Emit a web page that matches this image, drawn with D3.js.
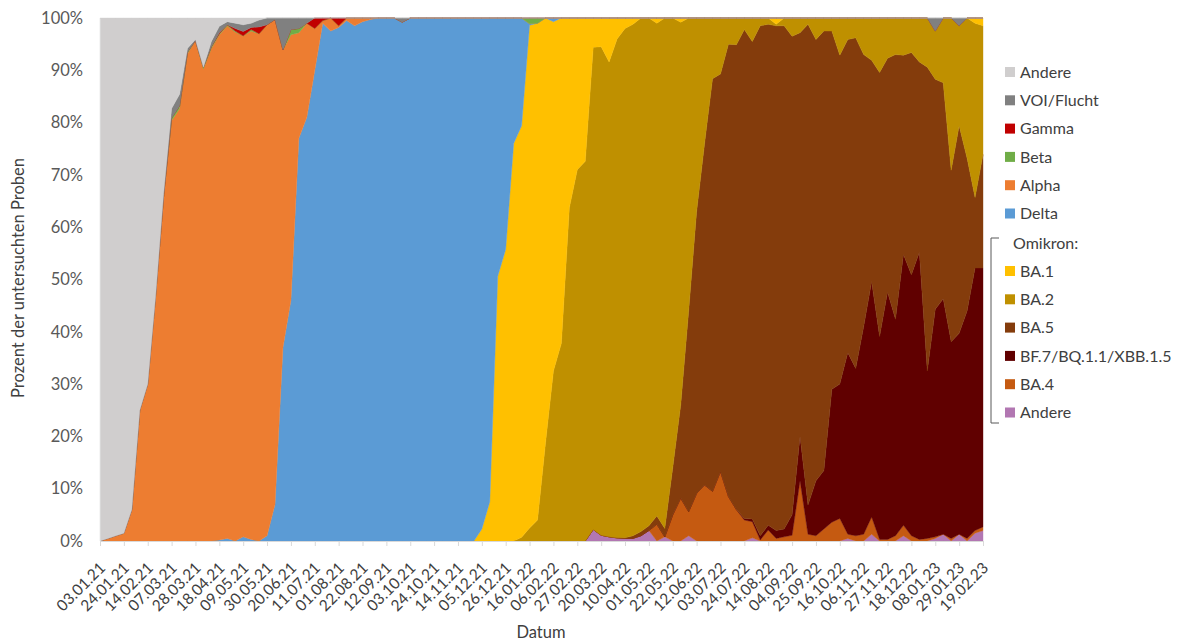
<!DOCTYPE html>
<html>
<head>
<meta charset="utf-8">
<script src="https://cdn.jsdelivr.net/npm/d3@7"></script>
<style>
  body { margin: 0; background: #fff; }
  text { font-family: Lato, "Open Sans", sans-serif; fill: #595959; }
</style>
</head>
<body>
<svg width="1182" height="642"></svg>
<script>
// weekly shares (%) from 03.01.21 to 19.02.23, 112 weeks
let omiAndere = [
  0, 0, 0, 0, 0, 0, 0, 0, 0, 0,
  0, 0, 0, 0, 0, 0, 0, 0, 0, 0,
  0, 0, 0, 0, 0, 0, 0, 0, 0, 0,
  0, 0, 0, 0, 0, 0, 0, 0, 0, 0,
  0, 0, 0, 0, 0, 0, 0, 0, 0, 0,
  0, 0, 0, 0, 0, 0, 0, 0, 0, 0,
  0, 0, 2.2, 1.1, 0.8, 0.6, 0.5, 0.5, 1, 2,
  0, 0.8, 0, 0, 1, 0, 0, 0, 0, 0,
  0, 0, 0.6, 0, 0, 0, 0, 0, 0, 0,
  0, 0, 0, 0, 0.5, 0, 0, 1.3, 0, 0,
  0, 1, 0, 0, 0, 0.5, 1.3, 0, 1.3, 0,
  1.5, 2
];
let ba4 = [
  0, 0, 0, 0, 0, 0, 0, 0, 0, 0,
  0, 0, 0, 0, 0, 0, 0, 0, 0, 0,
  0, 0, 0, 0, 0, 0, 0, 0, 0, 0,
  0, 0, 0, 0, 0, 0, 0, 0, 0, 0,
  0, 0, 0, 0, 0, 0, 0, 0, 0, 0,
  0, 0, 0, 0, 0, 0, 0, 0, 0, 0,
  0, 0, 0, 0, 0, 0, 0, 0, 0, 0,
  3.2, 0, 5, 8.2, 4.6, 9.1, 10.7, 9.5, 13.3, 8.5,
  6, 4, 3.1, 0.2, 2.1, 0.5, 0.8, 1.1, 11.5, 1.3,
  1, 2.3, 3.6, 4.3, 0.8, 1, 1.3, 3.3, 0.3, 0.3,
  1, 2, 1, 0.3, 0.5, 0.3, 0, 0.5, 0, 0.5,
  0.5, 0.7
];
let bf7 = [
  0, 0, 0, 0, 0, 0, 0, 0, 0, 0,
  0, 0, 0, 0, 0, 0, 0, 0, 0, 0,
  0, 0, 0, 0, 0, 0, 0, 0, 0, 0,
  0, 0, 0, 0, 0, 0, 0, 0, 0, 0,
  0, 0, 0, 0, 0, 0, 0, 0, 0, 0,
  0, 0, 0, 0, 0, 0, 0, 0, 0, 0,
  0, 0, 0, 0, 0, 0, 0, 0, 0, 0,
  0, 0, 0, 0, 0, 0, 0, 0, 0, 0,
  0, 0.3, 0.5, 0.8, 0.9, 1.5, 1.5, 3.9, 8.5, 5.6,
  10.5, 11.2, 25.4, 25.7, 34.7, 32, 39.7, 45, 38.8, 47.3,
  41.4, 51.8, 49.9, 54.9, 32, 43.5, 45, 37.6, 38.4, 43.5,
  50.2, 49.5
];
let ba5 = [
  0, 0, 0, 0, 0, 0, 0, 0, 0, 0,
  0, 0, 0, 0, 0, 0, 0, 0, 0, 0,
  0, 0, 0, 0, 0, 0, 0, 0, 0, 0,
  0, 0, 0, 0, 0, 0, 0, 0, 0, 0,
  0, 0, 0, 0, 0, 0, 0, 0, 0, 0,
  0, 0, 0, 0, 0, 0, 0, 0, 0, 0,
  0, 0, 0, 0, 0, 0, 0.1, 0.5, 0.8, 0.9,
  1.6, 1.6, 9, 17.8, 38.4, 53.9, 65.3, 78.9, 76, 86.5,
  88.9, 93.5, 91.3, 97.5, 95.8, 96.5, 96.2, 91.5, 77.2, 91.9,
  84.4, 84, 68.5, 62.9, 59.9, 63.2, 52, 42.3, 50.5, 44.7,
  50.6, 38.1, 42.5, 36.4, 58.1, 44, 41.3, 32.8, 39.7, 29.2,
  13.5, 21.7
];
let ba2 = [
  0, 0, 0, 0, 0, 0, 0, 0, 0, 0,
  0, 0, 0, 0, 0, 0, 0, 0, 0, 0,
  0, 0, 0, 0, 0, 0, 0, 0, 0, 0,
  0, 0, 0, 0, 0, 0, 0, 0, 0, 0,
  0, 0, 0, 0, 0, 0, 0, 0, 0, 0,
  0, 0, 0, 0.7, 2.5, 4, 18.7, 32.5, 37.8, 63.7,
  71, 72.6, 92.2, 93.4, 90.8, 95.4, 97.4, 97.8, 98.2, 97.1,
  94.2, 97.6, 86, 73.2, 56, 37, 24, 11.6, 10.7, 5,
  5.1, 2.2, 4.5, 1.5, 1.2, 0.3, 1.5, 3.5, 2.8, 1.2,
  4.1, 2.5, 2.5, 7.1, 4.1, 3.8, 7, 8.1, 10.4, 7.7,
  7, 7.1, 6.6, 8.4, 9.4, 9.2, 12.4, 29.1, 19.1, 26.8,
  33.3, 24.6
];
let ba1 = [
  0, 0, 0, 0, 0, 0, 0, 0, 0, 0,
  0, 0, 0, 0, 0, 0, 0, 0, 0, 0,
  0, 0, 0, 0, 0, 0, 0, 0, 0, 0,
  0, 0, 0, 0, 0, 0, 0, 0, 0, 0,
  0, 0, 0, 0, 0, 0, 0, 0, 2.3, 7.5,
  50.6, 55.8, 76, 78.7, 96.1, 95, 81.3, 66.8, 62.2, 36.3,
  29, 27.4, 5.6, 5.5, 8.4, 4, 2, 1.2, 0, 0,
  1, 0, 0, 0.8, 0, 0, 0, 0, 0, 0,
  0, 0, 0, 0, 0, 1.2, 0, 0, 0, 0,
  0, 0, 0, 0, 0, 0, 0, 0, 0, 0,
  0, 0, 0, 0, 0, 0, 0, 0, 0, 0,
  1, 1.5
];
let delta = [
  0, 0, 0, 0, 0, 0, 0, 0, 0, 0,
  0, 0, 0, 0, 0, 0.2, 0.5, 0, 0.8, 0.3,
  0, 1, 7, 37, 46, 77, 81, 90, 99, 97.5,
  98.2, 99.5, 98.5, 99.3, 99.7, 100, 100, 100, 99.2, 100,
  100, 100, 100, 100, 100, 100, 100, 100, 97.7, 92.5,
  49.4, 44.2, 24, 20.6, 0.3, 0, 0, 0.7, 0, 0,
  0, 0, 0, 0, 0, 0, 0, 0, 0, 0,
  0, 0, 0, 0, 0, 0, 0, 0, 0, 0,
  0, 0, 0, 0, 0, 0, 0, 0, 0, 0,
  0, 0, 0, 0, 0, 0, 0, 0, 0, 0,
  0, 0, 0, 0, 0, 0, 0, 0, 0, 0,
  0, 0
];
let alpha = [
  0, 0.5, 1, 1.5, 6, 25, 30, 47, 66, 80.4,
  82.7, 93.2, 95.7, 90.3, 94.2, 96.6, 98, 97.3, 95.8, 97.2,
  97, 97.7, 92.7, 56.9, 50.8, 20.2, 18, 8, 0.5, 2.5,
  0.3, 0.5, 1.5, 0.7, 0.3, 0, 0, 0, 0, 0,
  0, 0, 0, 0, 0, 0, 0, 0, 0, 0,
  0, 0, 0, 0, 0, 0, 0, 0, 0, 0,
  0, 0, 0, 0, 0, 0, 0, 0, 0, 0,
  0, 0, 0, 0, 0, 0, 0, 0, 0, 0,
  0, 0, 0, 0, 0, 0, 0, 0, 0, 0,
  0, 0, 0, 0, 0, 0, 0, 0, 0, 0,
  0, 0, 0, 0, 0, 0, 0, 0, 0, 0,
  0, 0
];
let beta = [
  0, 0, 0, 0, 0, 0, 0, 0, 0, 0.5,
  0.5, 0.3, 0, 0.3, 0.3, 0.2, 0.2, 0.2, 0, 0.3,
  0, 0, 0, 0, 1, 0.8, 0, 0, 0, 0,
  0, 0, 0, 0, 0, 0, 0, 0, 0, 0,
  0, 0, 0, 0, 0, 0, 0, 0, 0, 0,
  0, 0, 0, 0, 1.1, 1, 0, 0, 0, 0,
  0, 0, 0, 0, 0, 0, 0, 0, 0, 0,
  0, 0, 0, 0, 0, 0, 0, 0, 0, 0,
  0, 0, 0, 0, 0, 0, 0, 0, 0, 0,
  0, 0, 0, 0, 0, 0, 0, 0, 0, 0,
  0, 0, 0, 0, 0, 0, 0, 0, 0, 0,
  0, 0
];
let gamma = [
  0, 0, 0, 0, 0, 0, 0, 0, 0, 0,
  0, 0, 0, 0, 0, 0.2, 0, 0.5, 0.8, 0.4,
  1.3, 0, 0, 0, 0, 0, 0, 2, 0.5, 0,
  1.5, 0, 0, 0, 0, 0, 0, 0, 0, 0,
  0, 0, 0, 0, 0, 0, 0, 0, 0, 0,
  0, 0, 0, 0, 0, 0, 0, 0, 0, 0,
  0, 0, 0, 0, 0, 0, 0, 0, 0, 0,
  0, 0, 0, 0, 0, 0, 0, 0, 0, 0,
  0, 0, 0, 0, 0, 0, 0, 0, 0, 0,
  0, 0, 0, 0, 0, 0, 0, 0, 0, 0,
  0, 0, 0, 0, 0, 0, 0, 0, 0, 0,
  0, 0
];
let voi = [
  0, 0, 0, 0, 0, 0, 0, 0, 0.5, 1.8,
  2.2, 0.7, 0.2, 0, 1, 1.2, 0.6, 1, 1.3, 0.8,
  1.3, 1.3, 0.3, 6.1, 2.2, 2, 1, 0, 0, 0,
  0, 0, 0, 0, 0, 0, 0, 0, 0.8, 0,
  0, 0, 0, 0, 0, 0, 0, 0, 0, 0,
  0, 0, 0, 0, 0, 0, 0, 0, 0, 0,
  0, 0, 0, 0, 0, 0, 0, 0, 0, 0,
  0, 0, 0, 0, 0, 0, 0, 0, 0, 0,
  0, 0, 0, 0, 0, 0, 0, 0, 0, 0,
  0, 0, 0, 0, 0, 0, 0, 0, 0, 0,
  0, 0, 0, 0, 0, 2.5, 0, 0, 1.5, 0,
  0, 0
];
let andere = [
  100, 99.5, 99, 98.5, 94, 75, 70, 53, 33.5, 17.3,
  14.6, 5.8, 4.1, 9.4, 4.5, 1.6, 0.7, 1, 1.3, 1,
  0.4, 0, 0, 0, 0, 0, 0, 0, 0, 0,
  0, 0, 0, 0, 0, 0, 0, 0, 0, 0,
  0, 0, 0, 0, 0, 0, 0, 0, 0, 0,
  0, 0, 0, 0, 0, 0, 0, 0, 0, 0,
  0, 0, 0, 0, 0, 0, 0, 0, 0, 0,
  0, 0, 0, 0, 0, 0, 0, 0, 0, 0,
  0, 0, 0, 0, 0, 0, 0, 0, 0, 0,
  0, 0, 0, 0, 0, 0, 0, 0, 0, 0,
  0, 0, 0, 0, 0, 0, 0, 0, 0, 0,
  0, 0
];

let tickLabels = [
  "03.01.21", "24.01.21", "14.02.21", "07.03.21", "28.03.21", "18.04.21", "09.05.21",
  "30.05.21", "20.06.21", "11.07.21", "01.08.21", "22.08.21", "12.09.21", "03.10.21",
  "24.10.21", "14.11.21", "05.12.21", "26.12.21", "16.01.22", "06.02.22", "27.02.22",
  "20.03.22", "10.04.22", "01.05.22", "22.05.22", "12.06.22", "03.07.22", "24.07.22",
  "14.08.22", "04.09.22", "25.09.22", "16.10.22", "06.11.22", "27.11.22", "18.12.22",
  "08.01.23", "29.01.23", "19.02.23"
];

// stack order bottom -> top
let series = [
  { key: "omiAndere", name: "Andere", color: "#b277b2", values: omiAndere },
  { key: "ba4", name: "BA.4", color: "#c55a11", values: ba4 },
  { key: "bf7", name: "BF.7/BQ.1.1/XBB.1.5", color: "#600000", values: bf7 },
  { key: "ba5", name: "BA.5", color: "#843c0c", values: ba5 },
  { key: "ba2", name: "BA.2", color: "#bf9000", values: ba2 },
  { key: "ba1", name: "BA.1", color: "#ffc000", values: ba1 },
  { key: "delta", name: "Delta", color: "#5b9bd5", values: delta },
  { key: "alpha", name: "Alpha", color: "#ed7d31", values: alpha },
  { key: "beta", name: "Beta", color: "#70ad47", values: beta },
  { key: "gamma", name: "Gamma", color: "#c00000", values: gamma },
  { key: "voi", name: "VOI/Flucht", color: "#808080", values: voi },
  { key: "andere", name: "Andere", color: "#d0cece", values: andere }
];

let fmt = d3.timeFormat("%d.%m.%y");
let dates = d3.timeWeek.range(new Date(2021, 0, 3), new Date(2023, 1, 20)).map(fmt);

let rows = dates.map(function (d, i) {
  let row = { date: d };
  series.forEach(function (s) { row[s.key] = s.values[i]; });
  return row;
});

let svg = d3.select("svg"),
  margin = { top: 18, right: 199, bottom: 101, left: 100 },
  width = svg.attr("width") - margin.left - margin.right,
  height = svg.attr("height") - margin.top - margin.bottom,
  g = svg.append("g").attr("transform", "translate(" + margin.left + "," + margin.top + ")");

let x = d3.scalePoint().domain(dates).range([0, width]),
  y = d3.scaleLinear().domain([0, 1]).range([height, 0]),
  color = d3.scaleOrdinal().domain(series.map(s => s.key)).range(series.map(s => s.color));

let stacked = d3.stack()
  .keys(series.map(s => s.key))
  .offset(d3.stackOffsetExpand)(rows);

let area = d3.area()
  .x(d => x(d.data.date))
  .y0(d => y(d[0]))
  .y1(d => y(d[1]));

g.selectAll(".layer")
  .data(stacked)
  .enter().append("path")
  .attr("class", "layer")
  .attr("d", area)
  .attr("fill", d => color(d.key))
  .attr("stroke", d => color(d.key))
  .attr("stroke-width", 0.4);

// axes
let yAxis = g.append("g")
  .call(d3.axisLeft(y).ticks(10).tickFormat(d3.format(".0%")).tickSize(0).tickPadding(17));
yAxis.select(".domain").attr("stroke", "#d9d9d9");
yAxis.selectAll("text").style("font-size", "16.5px").style("fill", "#595959");

let xAxis = g.append("g")
  .attr("transform", "translate(0," + height + ")")
  .call(d3.axisBottom(x).tickValues(tickLabels).tickSize(5).tickSizeOuter(0));
xAxis.select(".domain").attr("stroke", "#d9d9d9");
xAxis.selectAll(".tick line").attr("stroke", "#d9d9d9");
xAxis.selectAll("text")
  .attr("x", 0)
  .attr("y", 0)
  .attr("dy", "0.35em")
  .attr("transform", "translate(2,24) rotate(-45)")
  .style("text-anchor", "end")
  .style("font-size", "15.5px")
  .style("fill", "#404040");

svg.append("text")
  .attr("transform", "translate(24,278) rotate(-90)")
  .attr("text-anchor", "middle")
  .style("font-size", "16.5px")
  .style("fill", "#404040")
  .text("Prozent der untersuchten Proben");

svg.append("text")
  .attr("x", 541)
  .attr("y", 638)
  .attr("text-anchor", "middle")
  .style("font-size", "16.5px")
  .style("fill", "#404040")
  .text("Datum");

// legend
let legendTop = series.slice(6).reverse(),
  legendOmi = series.slice(0, 6).reverse();

let legend = svg.append("g").attr("transform", "translate(1005,0)");

function legendRow(s, cy) {
  legend.append("rect")
    .attr("x", 0).attr("y", cy - 5)
    .attr("width", 10).attr("height", 10)
    .attr("fill", s.color);
  legend.append("text")
    .attr("x", 15).attr("y", cy)
    .attr("dy", "0.35em")
    .style("font-size", "16px")
    .style("fill", "#404040")
    .text(s.name);
}

legendTop.forEach(function (s, i) { legendRow(s, 72 + i * 28.3); });
legendOmi.forEach(function (s, i) { legendRow(s, 271 + i * 28.3); });

legend.append("text")
  .attr("x", 8).attr("y", 243)
  .attr("dy", "0.35em")
  .style("font-size", "16px")
  .style("fill", "#404040")
  .text("Omikron:");

legend.append("path")
  .attr("d", "M-6,238H-14V423H-6")
  .attr("fill", "none")
  .attr("stroke", "#595959")
  .attr("stroke-width", 1);
</script>
</body>
</html>
